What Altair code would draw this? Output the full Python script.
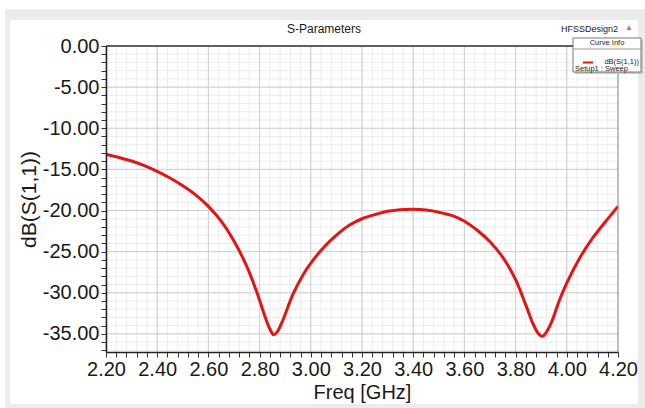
import altair as alt
import pandas as pd

# ---- data ----
freq = [2.20, 2.25, 2.30, 2.35, 2.40, 2.45, 2.50, 2.55, 2.60, 2.65, 2.70, 2.75,
        2.79, 2.82, 2.84, 2.855, 2.87, 2.89, 2.93, 2.97, 3.00, 3.05, 3.10, 3.15,
        3.20, 3.25, 3.30, 3.35, 3.40, 3.45, 3.50, 3.55, 3.60, 3.65, 3.70, 3.75,
        3.80, 3.84, 3.87, 3.89, 3.905, 3.92, 3.94, 3.97, 4.00, 4.05, 4.10, 4.15, 4.20]
s11_db = [-13.2, -13.55, -13.98, -14.55, -15.25, -16.05, -17.0, -18.1, -19.5, -21.3, -23.7, -26.8,
          -30.0, -32.8, -34.4, -35.1, -34.7, -33.4, -30.2, -27.8, -26.4, -24.5, -23.0, -21.8,
          -21.0, -20.5, -20.1, -19.9, -19.85, -19.95, -20.2, -20.6, -21.3, -22.4, -23.8, -25.7,
          -28.4, -31.5, -33.9, -35.0, -35.3, -34.8, -33.6, -31.0, -28.8, -25.8, -23.4, -21.4, -19.5]

x_major = [2.20, 2.40, 2.60, 2.80, 3.00, 3.20, 3.40, 3.60, 3.80, 4.00, 4.20]
y_major = [0, -5, -10, -15, -20, -25, -30, -35]
x_minor = [round(2.20 + 0.04 * i, 2) for i in range(51)]
y_minor = [-i for i in range(38)]

title_text = "S-Parameters"
design_text = "HFSSDesign2"
legend_header = "Curve Info"
legend_curve = "dB(S(1,1))"
legend_setup = "Setup1 : Sweep"
x_title = "Freq [GHz]"
y_title = "dB(S(1,1))"

W, H = 512, 306
FONT = "Liberation Sans"

curve = pd.DataFrame({"f": freq, "db": s11_db})
xmin_df = pd.DataFrame({"f": x_minor})
xmaj_df = pd.DataFrame({"f": x_major})
ymin_df = pd.DataFrame({"db": y_minor})
ymaj_df = pd.DataFrame({"db": y_major})
one = pd.DataFrame({"k": [0]})

xscale = alt.Scale(domain=[2.2, 4.2], nice=False, zero=False)
yscale = alt.Scale(domain=[-37.2, 0], nice=False, zero=False)

xaxis = alt.Axis(values=x_minor, title=x_title, grid=False,
                 labelExpr="abs(datum.value*5 - round(datum.value*5)) < 0.001 ? format(datum.value, '.2f') : ''",
                 labelFont=FONT, labelFontSize=20, labelColor="#1a1a1a",
                 labelOverlap=False, labelFlush=False, labelPadding=2,
                 tickSize=5, tickColor="#333333", tickWidth=1,
                 domainColor="#222222", domainWidth=1.5,
                 titleFont=FONT, titleFontSize=20, titleFontWeight="normal",
                 titleColor="#1a1a1a", titlePadding=3, zindex=1)
yaxis = alt.Axis(values=y_minor, title=y_title, grid=False,
                 labelExpr="abs(datum.value/5 - round(datum.value/5)) < 0.001 ? replace(format(datum.value, '.2f'), '\u2212', '-') : ''",
                 labelFont=FONT, labelFontSize=20, labelColor="#1a1a1a",
                 labelOverlap=False, labelFlush=False, labelPadding=2,
                 tickSize=5, tickColor="#333333", tickWidth=1,
                 domainColor="#222222", domainWidth=1.5,
                 titleFont=FONT, titleFontSize=21, titleFontWeight="normal",
                 titleColor="#1a1a1a", titlePadding=3, zindex=1)

X = lambda: alt.X("f:Q", scale=xscale, axis=xaxis)
Y = lambda: alt.Y("db:Q", scale=yscale, axis=yaxis)

def rect(x, x2, y, y2, **kw):
    return alt.Chart(one).mark_rect(**kw).encode(
        x=alt.value(x), x2=alt.value(x2), y=alt.value(y), y2=alt.value(y2))

def text(t, x, y, **kw):
    return alt.Chart(one).mark_text(text=t, font=FONT, **kw).encode(
        x=alt.value(x), y=alt.value(y))

bg_gray = rect(-101, 539, -37, 362, fill="#ebebeb")
bg_white = rect(-96, 532, -26, 358, fill="#ffffff")

grid_x_minor = alt.Chart(xmin_df).mark_rule(color="#ececec", strokeWidth=1).encode(x=X())
grid_y_minor = alt.Chart(ymin_df).mark_rule(color="#ececec", strokeWidth=1).encode(y=Y())
grid_x_major = alt.Chart(xmaj_df).mark_rule(color="#cfcfcf", strokeWidth=1).encode(x=X())
grid_y_major = alt.Chart(ymaj_df).mark_rule(color="#cfcfcf", strokeWidth=1).encode(y=Y())

line = alt.Chart(curve).mark_line(color="#e31414", strokeWidth=3,
                                  interpolate="catmull-rom").encode(x=X(), y=Y())

top_border = alt.Chart(one).mark_rule(color="#333333", strokeWidth=1.5).encode(
    x=alt.value(0), x2=alt.value(W), y=alt.value(0))
right_border = alt.Chart(one).mark_rule(color="#999999", strokeWidth=1).encode(
    x=alt.value(W), y=alt.value(0), y2=alt.value(H))

title = text(title_text, 218, -17, fontSize=12, color="#1a1a1a", align="center", baseline="middle")
design = text(design_text, 512, -17, fontSize=9, color="#1a1a1a", align="right", baseline="middle")
tri = text("▲", 523, -18, fontSize=8, color="#cf6a6a", align="center", baseline="middle")

leg_shadow = rect(469, 537, -6, 28, fill="#c8c8c8")
leg_box = rect(467, 535, -8, 26, fill="#ffffff", stroke="#777777", strokeWidth=1)
leg_sep = alt.Chart(one).mark_rule(color="#999999", strokeWidth=1).encode(
    x=alt.value(467), x2=alt.value(535), y=alt.value(3))
leg_head = text(legend_header, 501, -3, fontSize=7.5, color="#1a1a1a", align="center", baseline="middle")
leg_line = alt.Chart(one).mark_rule(color="#e31414", strokeWidth=2).encode(
    x=alt.value(477), x2=alt.value(487), y=alt.value(16.5))
leg_curve = text(legend_curve, 533, 15.5, fontSize=7.5, color="#1a1a1a", align="right", baseline="middle")
leg_setup = text(legend_setup, 469, 23, fontSize=7.5, color="#1a1a1a", align="left", baseline="middle")

chart = alt.layer(
    bg_gray, bg_white,
    grid_x_minor, grid_y_minor, grid_x_major, grid_y_major,
    line, top_border, right_border,
    title, design, tri,
    leg_shadow, leg_box, leg_sep, leg_head, leg_line, leg_curve, leg_setup,
).properties(
    width=W, height=H,
    autosize=alt.AutoSizeParams(type="none"),
    padding={"left": 106, "top": 46, "right": 27, "bottom": 56},
    background="#ffffff",
).configure_view(stroke=None)

chart.save("out.html", embed_options={"renderer": "svg", "actions": False})
